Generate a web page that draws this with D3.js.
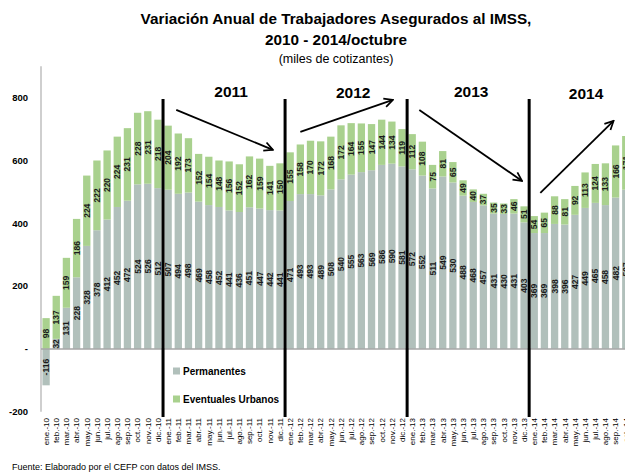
<!DOCTYPE html>
<html>
<head>
<meta charset="utf-8">
<script src="https://cdn.jsdelivr.net/npm/d3@7"></script>
<style>
  body { margin: 0; background: #fff; }
  text { font-family: "Liberation Sans", Arial, sans-serif; }
</style>
</head>
<body>
<div id="chart"></div>
<script>
var monthNames = ["ene.", "feb.", "mar.", "abr.", "may.", "jun.", "jul.", "ago.", "sep.", "oct.", "nov.", "dic."];
var years = ["10", "11", "12", "13", "14"];
var yearLabels = ["2011", "2012", "2013", "2014"];
var yTicks = [-200, 0, 200, 400, 600, 800];

var permanentes = [
  -116, 32, 131, 228, 328, 378, 412, 452, 472, 524, 526, 512,
  507, 494, 498, 469, 458, 452, 441, 436, 451, 447, 442, 441,
  471, 493, 493, 489, 508, 540, 555, 563, 569, 586, 590, 581,
  572, 552, 511, 549, 530, 488, 468, 457, 431, 430, 431, 403,
  369, 369, 398, 396, 427, 449, 465, 458, 482, 507
];
var eventuales = [
  98, 137, 159, 186, 224, 222, 220, 224, 231, 228, 231, 218,
  204, 192, 173, 152, 154, 148, 156, 152, 162, 159, 141, 150,
  155, 158, 170, 172, 168, 172, 164, 155, 147, 144, 134, 119,
  112, 108, 75, 81, 65, 49, 40, 37, 35, 33, 46, 51,
  54, 65, 88, 81, 92, 113, 124, 133, 166, 171
];

// trend arrows: [from month index, from value, to month index, to value]
var arrows = [
  [12.8, 761, 22.3, 634],
  [25.0, 691, 34.1, 793],
  [36.7, 761, 46.8, 535],
  [48.6, 497, 55.8, 726]
];

var categories = [];
years.forEach(function (yy) {
  monthNames.forEach(function (m) {
    categories.push(m + "-" + yy);
  });
});
categories = categories.slice(0, permanentes.length);

var rows = categories.map(function (c, i) {
  return { mes: c, perm: permanentes[i], even: eventuales[i] };
});

var width = 625;
var height = 475;
var colorPerm = "#b1c0bb";
var colorEven = "#a9d18e";

var svg = d3.select("#chart").append("svg")
  .attr("width", width)
  .attr("height", height);

var step = 10.17;
var x = d3.scaleBand()
  .domain(categories)
  .range([41, 41 + step * categories.length])
  .paddingInner(0.28)
  .paddingOuter(0.14);

var y = d3.scaleLinear().domain([-200, 900]).range([411.7, 66.3]);

var xi = function (i) {
  return x(categories[0]) + x.bandwidth() / 2 + i * x.step();
};

var stack = d3.stack()
  .keys(["perm", "even"])
  .offset(d3.stackOffsetDiverging);
var series = stack(rows);

// title
var titles = [
  { t: "Variación Anual de Trabajadores Asegurados al IMSS,", y: 24, size: 15.3, w: "bold" },
  { t: "2010 - 2014/octubre", y: 45, size: 15.3, w: "bold" },
  { t: "(miles de cotizantes)", y: 63, size: 12.5, w: "normal" }
];
svg.selectAll(".title")
  .data(titles)
  .enter()
  .append("text")
  .attr("x", 336)
  .attr("y", function (d) { return d.y; })
  .attr("text-anchor", "middle")
  .style("font-size", function (d) { return d.size + "px"; })
  .style("font-weight", function (d) { return d.w; })
  .attr("fill", "#000")
  .text(function (d) { return d.t; });

// y axis
svg.append("line")
  .attr("x1", 41).attr("x2", 41)
  .attr("y1", y(900)).attr("y2", y(-200))
  .attr("stroke", "#bfbfbf")
  .attr("stroke-width", 1.5);

svg.selectAll(".ytick")
  .data(yTicks)
  .enter()
  .append("text")
  .attr("x", 28)
  .attr("y", function (d) { return y(d); })
  .attr("dy", "0.35em")
  .attr("text-anchor", "end")
  .style("font-size", "9.5px")
  .style("font-weight", "bold")
  .text(function (d) { return d === 0 ? "-" : d; });

// bars
var groups = svg.selectAll(".serie")
  .data(series)
  .enter()
  .append("g")
  .attr("fill", function (d) { return d.key === "perm" ? colorPerm : colorEven; });

groups.selectAll("rect")
  .data(function (d) { return d; })
  .enter()
  .append("rect")
  .attr("x", function (d) { return x(d.data.mes); })
  .attr("width", x.bandwidth())
  .attr("y", function (d) { return y(d[1]); })
  .attr("height", function (d) { return y(d[0]) - y(d[1]); });

// zero line
svg.append("line")
  .attr("x1", 41).attr("x2", width)
  .attr("y1", y(0)).attr("y2", y(0))
  .attr("stroke", "#a6a6a6")
  .attr("stroke-width", 1.5);

// data labels
series.forEach(function (s) {
  svg.selectAll(".lbl-" + s.key)
    .data(s)
    .enter()
    .append("text")
    .attr("transform", function (d) {
      var cx = x(d.data.mes) + x.bandwidth() / 2;
      var cy = y((d[0] + d[1]) / 2);
      return "translate(" + cx + "," + cy + ") rotate(-90)";
    })
    .attr("text-anchor", "middle")
    .attr("dy", "0.35em")
    .style("font-size", "8.5px")
    .style("font-weight", "bold")
    .attr("fill", "#1a1a1a")
    .text(function (d) { return d.data[s.key]; });
});

// x labels
svg.selectAll(".xlab")
  .data(categories)
  .enter()
  .append("text")
  .attr("transform", function (d) {
    return "translate(" + (x(d) + x.bandwidth() / 2) + ",418) rotate(-90)";
  })
  .attr("text-anchor", "end")
  .attr("dy", "0.35em")
  .style("font-size", "8px")
  .attr("fill", "#000")
  .text(function (d) { return d; });

// year separators
var seps = [11, 23, 35, 47];
svg.selectAll(".sep")
  .data(seps)
  .enter()
  .append("line")
  .attr("x1", function (d) { return xi(d + 0.5); })
  .attr("x2", function (d) { return xi(d + 0.5); })
  .attr("y1", 99)
  .attr("y2", 417)
  .attr("stroke", "#000")
  .attr("stroke-width", 3);

var yearPos = [
  [18.2, 97], [30.2, 98], [41.8, 97], [53.1, 99]
];
svg.selectAll(".year")
  .data(yearLabels)
  .enter()
  .append("text")
  .attr("x", function (d, i) { return xi(yearPos[i][0]); })
  .attr("y", function (d, i) { return yearPos[i][1]; })
  .attr("text-anchor", "middle")
  .style("font-size", "15.5px")
  .style("font-weight", "bold")
  .text(function (d) { return d; });

// arrows
svg.append("defs").append("marker")
  .attr("id", "head")
  .attr("viewBox", "0 0 10 10")
  .attr("refX", 9)
  .attr("refY", 5)
  .attr("markerWidth", 6)
  .attr("markerHeight", 6)
  .attr("orient", "auto")
  .append("path")
  .attr("d", "M1,1 L9,5 L1,9")
  .attr("fill", "none")
  .attr("stroke", "#000")
  .attr("stroke-width", 1.6);

svg.selectAll(".arrow")
  .data(arrows)
  .enter()
  .append("line")
  .attr("x1", function (d) { return xi(d[0]); })
  .attr("y1", function (d) { return y(d[1]); })
  .attr("x2", function (d) { return xi(d[2]); })
  .attr("y2", function (d) { return y(d[3]); })
  .attr("stroke", "#000")
  .attr("stroke-width", 1.8)
  .attr("marker-end", "url(#head)");

// legend
var legend = [
  { name: "Permanentes", color: colorPerm, y: 371 },
  { name: "Eventuales Urbanos", color: colorEven, y: 399 }
];
svg.selectAll(".legsq")
  .data(legend)
  .enter()
  .append("rect")
  .attr("x", 173)
  .attr("y", function (d) { return d.y - 3.5; })
  .attr("width", 7)
  .attr("height", 7)
  .attr("fill", function (d) { return d.color; });

svg.selectAll(".legtx")
  .data(legend)
  .enter()
  .append("text")
  .attr("x", 183)
  .attr("y", function (d) { return d.y; })
  .attr("dy", "0.35em")
  .style("font-size", "10px")
  .style("font-weight", "bold")
  .text(function (d) { return d.name; });

// source
svg.append("text")
  .attr("x", 12)
  .attr("y", 470)
  .style("font-size", "9px")
  .text("Fuente: Elaborado por el CEFP con datos del IMSS.");
</script>
</body>
</html>
